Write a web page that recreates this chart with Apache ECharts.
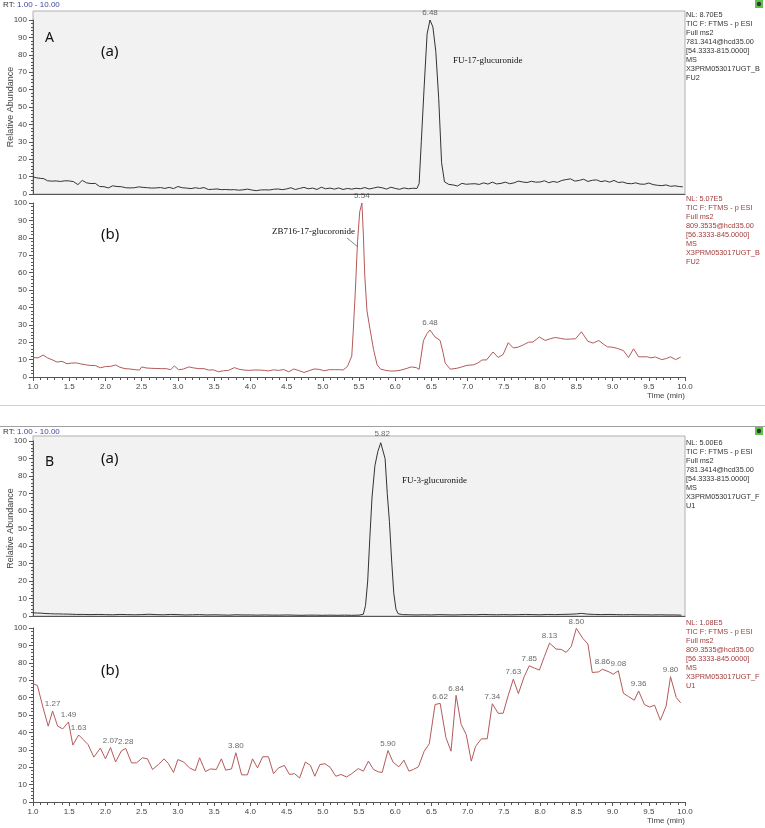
<!DOCTYPE html>
<html><head><meta charset="utf-8">
<script src="https://cdn.jsdelivr.net/npm/echarts@6/dist/echarts.min.js"></script>
<style>html,body{margin:0;padding:0;background:#fff}#c{width:765px;height:828px}</style>
</head><body><div id="c"></div>
<script>
// ---------- data ----------
const timeRange = [1, 10];
const timeInterval = 0.5;
const abundanceRange = [0, 100];
const abundanceInterval = 10;

// Panel A (a): FU-17-glucuronide, m/z 781.3414
const aTopSeries = [[1.00,9.8],[1.05,9.3],[1.10,9.0],[1.15,8.8],[1.20,7.6],[1.26,7.4],[1.32,7.5],[1.38,7.2],[1.44,7.6],[1.50,7.5],[1.56,7.1],[1.62,5.4],[1.68,7.8],[1.74,6.4],[1.80,6.0],[1.86,6.1],[1.92,4.3],[1.98,4.2],[2.04,3.5],[2.10,4.7],[2.16,4.3],[2.22,4.2],[2.28,3.6],[2.34,3.5],[2.40,3.6],[2.46,4.1],[2.52,3.8],[2.58,3.6],[2.64,3.4],[2.70,3.5],[2.76,3.7],[2.82,3.2],[2.88,3.8],[2.94,3.1],[3.00,4.3],[3.06,3.6],[3.12,3.4],[3.18,3.1],[3.24,3.6],[3.30,3.2],[3.36,3.7],[3.42,2.6],[3.48,2.7],[3.54,2.9],[3.60,2.5],[3.66,2.6],[3.72,2.4],[3.78,2.5],[3.84,2.2],[3.90,2.4],[3.96,2.8],[4.02,2.3],[4.08,1.9],[4.14,2.3],[4.20,2.4],[4.26,2.3],[4.32,2.7],[4.38,2.9],[4.44,2.5],[4.50,2.9],[4.56,3.6],[4.62,2.6],[4.68,3.2],[4.74,3.8],[4.80,3.0],[4.86,3.4],[4.92,2.6],[4.98,3.9],[5.04,3.0],[5.10,3.4],[5.16,2.8],[5.22,3.5],[5.28,2.6],[5.34,3.2],[5.40,2.8],[5.46,3.3],[5.52,3.0],[5.58,3.7],[5.64,2.9],[5.70,3.4],[5.76,4.0],[5.82,3.6],[5.88,2.8],[5.94,3.9],[6.00,3.2],[6.06,2.7],[6.12,3.5],[6.18,3.0],[6.24,3.3],[6.30,3.2],[6.33,6],[6.36,30],[6.40,62],[6.44,92],[6.48,100],[6.52,96],[6.56,82],[6.60,55],[6.64,18],[6.68,7],[6.74,5.5],[6.80,5.2],[6.86,4.6],[6.92,6.1],[6.98,5.6],[7.04,5.8],[7.10,5.9],[7.16,5.5],[7.22,6.4],[7.28,5.7],[7.34,6.8],[7.40,5.8],[7.46,6.1],[7.52,6.8],[7.58,5.9],[7.64,6.4],[7.70,7.4],[7.76,6.9],[7.82,6.6],[7.88,7.3],[7.94,6.8],[8.00,6.9],[8.06,7.6],[8.12,6.5],[8.18,7.2],[8.24,6.7],[8.30,7.8],[8.36,8.3],[8.42,8.7],[8.48,7.4],[8.54,7.8],[8.60,8.5],[8.66,7.2],[8.72,7.9],[8.78,8.1],[8.84,7.1],[8.90,7.6],[8.96,6.8],[9.02,7.8],[9.08,6.6],[9.14,6.9],[9.20,6.1],[9.26,5.9],[9.32,6.4],[9.38,5.7],[9.44,5.6],[9.50,6.3],[9.56,5.4],[9.62,5.0],[9.68,4.8],[9.74,5.2],[9.80,4.4],[9.86,4.7],[9.92,4.3],[9.97,4.1]];
const aTopPeaks = [6.48];

// Panel A (b): ZB716-17-glucoronide, m/z 809.3535
const aBottomSeries = [[1.00,11.2],[1.07,11.0],[1.14,12.6],[1.20,11.0],[1.27,9.8],[1.33,8.6],[1.40,9.0],[1.47,7.6],[1.53,8.0],[1.60,8.1],[1.66,7.5],[1.73,7.0],[1.80,6.6],[1.86,6.6],[1.93,5.3],[2.00,6.0],[2.07,6.1],[2.14,6.9],[2.20,5.6],[2.27,4.8],[2.34,4.6],[2.41,4.2],[2.47,4.0],[2.50,5.8],[2.56,5.2],[2.63,5.0],[2.70,4.9],[2.77,4.8],[2.84,4.8],[2.90,4.2],[2.95,6.4],[3.01,4.2],[3.08,4.6],[3.15,5.8],[3.22,5.2],[3.29,4.8],[3.36,4.8],[3.42,4.0],[3.49,4.1],[3.56,3.0],[3.63,3.6],[3.70,3.8],[3.78,5.4],[3.84,4.5],[3.91,4.0],[3.98,3.8],[4.05,4.0],[4.12,4.0],[4.19,3.8],[4.25,3.5],[4.32,4.1],[4.39,3.8],[4.46,4.3],[4.53,3.0],[4.60,4.6],[4.67,3.7],[4.74,2.6],[4.81,3.6],[4.88,4.6],[4.95,4.4],[5.02,3.6],[5.09,4.2],[5.16,4.2],[5.23,4.2],[5.28,4.0],[5.34,6.0],[5.40,12],[5.42,26],[5.45,50],[5.48,78],[5.51,95],[5.54,100],[5.56,82],[5.58,58],[5.61,38],[5.65,28],[5.70,16],[5.75,7],[5.80,4.5],[5.87,3.8],[5.94,3.4],[6.01,3.5],[6.08,4.0],[6.15,4.8],[6.22,5.8],[6.29,5.4],[6.33,4.4],[6.39,21],[6.44,25],[6.48,27],[6.55,23],[6.62,21],[6.66,14],[6.69,8],[6.76,4.5],[6.85,5.0],[6.92,5.8],[6.99,6.7],[7.08,7.0],[7.14,8.0],[7.20,9.8],[7.26,9.8],[7.35,14.4],[7.42,11.2],[7.49,13.0],[7.56,19.7],[7.63,16.7],[7.70,17.2],[7.77,18.5],[7.84,20.0],[7.90,20.1],[7.99,23.0],[8.07,21.0],[8.14,22.0],[8.21,22.7],[8.28,22.2],[8.35,21.7],[8.42,21.8],[8.49,22.0],[8.57,26.0],[8.66,20.5],[8.73,19.5],[8.81,21.0],[8.87,19.0],[8.93,17.3],[8.99,17.2],[9.07,16.4],[9.15,15.2],[9.22,11.2],[9.29,16.2],[9.36,11.6],[9.48,11.6],[9.53,11.0],[9.59,11.5],[9.68,10.0],[9.74,10.6],[9.80,11.6],[9.87,10.0],[9.94,11.4]];
const aBottomPeaks = [5.54, 6.48];

// Panel B (a): FU-3-glucuronide, m/z 781.3414
const bTopSeries = [[1.00,1.8],[1.06,1.7],[1.12,1.6],[1.18,1.4],[1.24,1.3],[1.30,1.2],[1.36,1.2],[1.42,1.1],[1.48,1.1],[1.54,1.0],[1.60,0.9],[1.70,0.9],[1.80,0.8],[1.90,0.9],[2.00,0.8],[2.10,0.7],[2.20,0.9],[2.30,0.8],[2.40,0.7],[2.50,0.8],[2.60,1.0],[2.70,0.8],[2.80,0.7],[2.90,0.9],[3.00,0.8],[3.10,0.6],[3.20,0.7],[3.30,0.8],[3.40,0.6],[3.50,0.7],[3.60,0.6],[3.70,0.5],[3.80,0.7],[3.90,0.6],[4.00,0.6],[4.10,0.5],[4.20,0.6],[4.30,0.5],[4.40,0.5],[4.50,0.6],[4.60,0.5],[4.70,0.4],[4.80,0.5],[4.90,0.5],[5.00,0.4],[5.10,0.5],[5.20,0.4],[5.30,0.5],[5.40,0.4],[5.50,0.5],[5.56,1],[5.59,6],[5.62,20],[5.65,45],[5.68,68],[5.72,86],[5.76,94],[5.80,99],[5.82,100],[5.86,90],[5.89,70],[5.92,54],[5.95,32],[5.98,13],[6.01,4],[6.04,1.3],[6.10,0.8],[6.20,0.7],[6.30,0.6],[6.40,0.7],[6.50,0.6],[6.60,0.8],[6.70,0.7],[6.80,0.6],[6.90,0.7],[7.00,0.8],[7.10,0.7],[7.20,0.9],[7.30,0.8],[7.40,0.7],[7.50,0.8],[7.60,0.7],[7.70,0.8],[7.80,0.9],[7.90,0.8],[8.00,0.7],[8.10,0.9],[8.20,0.8],[8.30,0.9],[8.40,1.0],[8.50,1.2],[8.57,1.5],[8.65,1.1],[8.75,0.9],[8.85,0.8],[8.95,0.9],[9.05,0.8],[9.15,0.7],[9.25,0.8],[9.35,0.7],[9.45,0.7],[9.55,0.6],[9.65,0.7],[9.75,0.6],[9.85,0.6],[9.95,0.5]];
const bTopPeaks = [5.82];

// Panel B (b): m/z 809.3535
const bBottomSeries = [[1.00,68],[1.06,67],[1.14,54],[1.21,43.6],[1.27,52.3],[1.34,43.6],[1.41,42],[1.49,46],[1.55,32.7],[1.63,38.5],[1.69,36],[1.76,33],[1.84,25.8],[1.93,31],[2.00,24.8],[2.07,31.3],[2.14,23],[2.22,29.4],[2.28,30.8],[2.36,22.5],[2.43,22.5],[2.51,25.4],[2.58,24.8],[2.65,18.7],[2.73,21.5],[2.81,24.8],[2.87,22],[2.94,17],[3.00,24.4],[3.08,23],[3.16,19.6],[3.24,18],[3.30,25.4],[3.38,17.5],[3.45,19],[3.53,18.7],[3.60,24.8],[3.66,18.3],[3.74,19],[3.80,28.3],[3.88,15.6],[3.96,15.6],[4.03,24.8],[4.10,19.6],[4.17,26],[4.25,26],[4.32,16.3],[4.39,19.6],[4.47,21],[4.54,15.8],[4.61,16.3],[4.68,13.8],[4.76,23],[4.83,21],[4.89,14.8],[4.96,21.5],[5.03,22],[5.10,20],[5.18,14.8],[5.25,15.8],[5.33,14.4],[5.40,16.3],[5.49,19.2],[5.56,17.7],[5.63,23.5],[5.70,18.7],[5.77,17.3],[5.82,17],[5.90,29.6],[5.97,22.9],[6.05,20.2],[6.12,24],[6.19,17.7],[6.25,18.7],[6.32,20.2],[6.40,29.2],[6.47,33.5],[6.55,56],[6.62,56.7],[6.70,37],[6.77,29.2],[6.84,61.3],[6.91,44.6],[6.98,38.8],[7.05,23.5],[7.11,32],[7.19,36.3],[7.27,36.3],[7.34,56.5],[7.42,51],[7.49,51],[7.56,61.3],[7.63,70.6],[7.70,62.3],[7.78,72],[7.85,78.3],[7.92,77],[7.99,75.8],[8.06,83.7],[8.13,91.3],[8.22,87.9],[8.29,87.7],[8.36,86],[8.43,89.4],[8.50,99.8],[8.59,94],[8.66,90.8],[8.72,74.4],[8.81,74.8],[8.86,76.3],[8.95,74.8],[9.01,73.5],[9.08,75.4],[9.15,62.5],[9.22,60.6],[9.30,58.5],[9.36,63.8],[9.44,56],[9.51,54.6],[9.58,55.6],[9.66,47],[9.74,55.2],[9.80,72],[9.88,60],[9.94,57]];
const bBottomPeaks = [1.27,1.49,1.63,2.07,2.28,3.80,5.90,6.62,6.84,7.34,7.63,7.85,8.13,8.50,8.86,9.08,9.36,9.80];

// header / info texts
const rtLabel = 'RT:';
const rtRange = '1.00 - 10.00';
const infoATop = ['NL: 8.70E5','TIC F: FTMS - p ESI','Full ms2','781.3414@hcd35.00','[54.3333-815.0000]','MS','X3PRM053017UGT_B','FU2'];
const infoABottom = ['NL: 5.07E5','TIC F: FTMS - p ESI','Full ms2','809.3535@hcd35.00','[56.3333-845.0000]','MS','X3PRM053017UGT_B','FU2'];
const infoBTop = ['NL: 5.00E6','TIC F: FTMS - p ESI','Full ms2','781.3414@hcd35.00','[54.3333-815.0000]','MS','X3PRM053017UGT_F','U1'];
const infoBBottom = ['NL: 1.08E5','TIC F: FTMS - p ESI','Full ms2','809.3535@hcd35.00','[56.3333-845.0000]','MS','X3PRM053017UGT_F','U1'];
const compoundA1 = 'FU-17-glucuronide';
const compoundA2 = 'ZB716-17-glucoronide';
const compoundB1 = 'FU-3-glucuronide';
const yName = 'Relative Abundance';
const xName = 'Time (min)';

// ---------- styles / layout ----------
const SANS = 'Liberation Sans, Arial, sans-serif';
const SERIF = 'Liberation Serif, Times New Roman, serif';
const topColor = '#333333';
const bottomColor = '#b45a5a';
const bottomText = '#a33c3c';
const axisColor = '#555555';
const L = 33, W = 652;

const panels = [
  {top:20,  h:174, data:aTopSeries,    peaks:aTopPeaks,    color:topColor,    boxed:true},
  {top:203, h:174, data:aBottomSeries, peaks:aBottomPeaks, color:bottomColor, boxed:false},
  {top:441, h:175, data:bTopSeries,    peaks:bTopPeaks,    color:topColor,    boxed:true},
  {top:628, h:174, data:bBottomSeries, peaks:bBottomPeaks, color:bottomColor, boxed:false}
];

function valueAt(series, t){
  const p = series.find(d => Math.abs(d[0]-t) < 1e-6);
  return p ? p[1] : 0;
}

const grid = panels.map(p => ({left:L, top:p.top, width:W, height:p.h, outerBoundsMode:'none', containLabel:false}));
const xAxis = panels.map((p,i) => ({
  type:'value', gridIndex:i, min:timeRange[0], max:timeRange[1], interval:timeInterval,
  axisLine:{show:true, onZero:false, lineStyle:{color:axisColor, width:1}},
  axisTick:{show:!p.boxed, length:4, lineStyle:{color:axisColor}},
  minorTick:{show:!p.boxed, splitNumber:5, length:3, lineStyle:{color:axisColor}},
  axisLabel:{show:!p.boxed, formatter:v=>v.toFixed(1), fontSize:8, color:'#444', margin:6, fontFamily:SANS},
  splitLine:{show:false}, minorSplitLine:{show:false},
  name: p.boxed ? '' : xName, nameLocation:'end', nameGap:0, nameMoveOverlap:false,
  nameTextStyle:{align:'right', verticalAlign:'top', padding:[15,0,0,0], fontSize:8, color:'#444', fontFamily:SANS}
}));
const yAxis = panels.map((p,i) => ({
  type:'value', gridIndex:i, min:abundanceRange[0], max:abundanceRange[1], interval:abundanceInterval,
  axisLine:{show:true, lineStyle:{color:axisColor, width:1}},
  axisTick:{show:true, length:4, lineStyle:{color:axisColor}},
  minorTick:{show:true, splitNumber:5, length:2, lineStyle:{color:axisColor}},
  axisLabel:{fontSize:8, color:'#444', margin:6, fontFamily:SANS},
  splitLine:{show:false}, minorSplitLine:{show:false},
  name: p.boxed ? yName : '', nameLocation:'middle', nameGap:18, nameMoveOverlap:false,
  nameTextStyle:{fontSize:9, color:'#444', fontFamily:SANS}
}));
const series = [];
panels.forEach((p,i) => {
  series.push({type:'line', xAxisIndex:i, yAxisIndex:i, data:p.data, showSymbol:false, symbol:'none',
    lineStyle:{color:p.color, width:1}, itemStyle:{color:p.color}, silent:true, animation:false, z:3});
  series.push({type:'scatter', xAxisIndex:i, yAxisIndex:i, symbolSize:0, silent:true, animation:false, z:4,
    data:p.peaks.map(t => ({name:t.toFixed(2), value:[t, valueAt(p.data,t)]})),
    label:{show:true, position:'top', distance:3, formatter:'{b}', fontSize:8, color:'#444', fontFamily:SANS}});
});

function infoBlock(lines, x, y, color){
  return {type:'text', left:x, top:y, silent:true,
    style:{text:lines.join('\n'), font:'7.3px '+SANS, fill:color, lineHeight:9}};
}
function rtHeader(y){
  return {type:'text', left:3, top:y, silent:true,
    style:{text:'{a|'+rtLabel+'} {b|'+rtRange+'}', font:'8px '+SANS,
      rich:{a:{fill:'#333', font:'8px '+SANS}, b:{fill:'#3c46a0', font:'8px '+SANS}}}};
}
function icon(y){
  return [
    {type:'rect', shape:{x:755, y:y, width:8, height:8}, style:{fill:'#5cc44a'}, silent:true},
    {type:'circle', shape:{cx:759, cy:y+4, r:2.2}, style:{fill:'#333'}, silent:true}
  ];
}
function label(text, x, y, size, family, color){
  return {type:'text', left:x, top:y, silent:true, style:{text:text, font:size+'px '+family, fill:color||'#111'}};
}

const graphic = [
  {type:'rect', shape:{x:L, y:11, width:W, height:183}, style:{fill:'#f2f2f2', stroke:'#b0b0b0', lineWidth:1}, z:-10, silent:true},
  {type:'rect', shape:{x:L, y:436, width:W, height:180}, style:{fill:'#f2f2f2', stroke:'#b0b0b0', lineWidth:1}, z:-10, silent:true},
  {type:'line', shape:{x1:0, y1:405.5, x2:765, y2:405.5}, style:{stroke:'#d0d0d0', lineWidth:1}, silent:true},
  {type:'line', shape:{x1:0, y1:426.5, x2:765, y2:426.5}, style:{stroke:'#a0a0a0', lineWidth:1}, silent:true},
  rtHeader(1), rtHeader(428),
  ...icon(0), ...icon(427),
  infoBlock(infoATop, 686, 10, '#333'),
  infoBlock(infoABottom, 686, 194, bottomText),
  infoBlock(infoBTop, 686, 438, '#333'),
  infoBlock(infoBBottom, 686, 618, bottomText),
  label('A', 45, 31, 14, 'Noto Sans, sans-serif'),
  label('(a)', 101, 44, 15, 'Noto Sans, sans-serif'),
  label('(b)', 101, 227, 15, 'Noto Sans, sans-serif'),
  label('B', 45, 455, 14, 'Noto Sans, sans-serif'),
  label('(a)', 101, 451, 15, 'Noto Sans, sans-serif'),
  label('(b)', 101, 663, 15, 'Noto Sans, sans-serif'),
  label(compoundA1, 453, 56, 9, SERIF),
  label(compoundA2, 272, 227, 9, SERIF),
  label(compoundB1, 402, 476, 9, SERIF),
  {type:'line', shape:{x1:347, y1:238, x2:358, y2:247}, style:{stroke:'#666', lineWidth:0.8}, silent:true}
];

const chart = echarts.init(document.getElementById('c'), null, {renderer:'canvas'});
chart.setOption({
  animation:false, backgroundColor:'#ffffff',
  grid, xAxis, yAxis, series, graphic
});
</script></body></html>
